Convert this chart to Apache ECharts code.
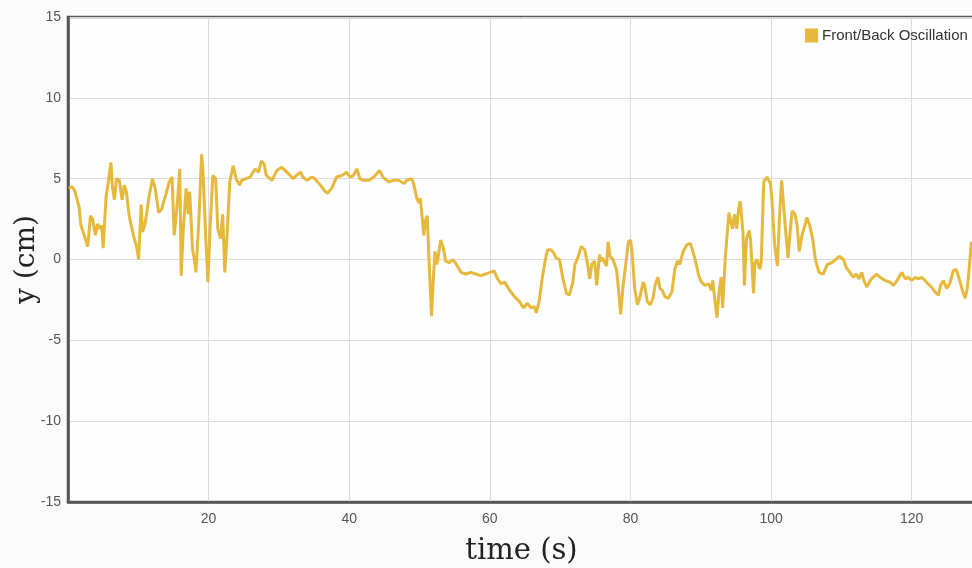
<!DOCTYPE html>
<html>
<head>
<meta charset="utf-8">
<script src="https://cdn.jsdelivr.net/npm/echarts@6/dist/echarts.min.js"></script>
<style>
html,body{margin:0;padding:0;background:#fbfbfb;}
#c{width:972px;height:568px;}
</style>
</head>
<body>
<div id="c"></div>
<script>
const seriesName = 'Front/Back Oscillation';
const timeS = [0.1,0.6,1.0,1.6,1.8,2.3,2.8,3.2,3.5,3.9,4.2,4.5,4.8,5.0,5.4,5.8,6.1,6.3,6.6,6.9,7.3,7.7,8.0,8.3,8.7,9.3,9.8,10.05,10.4,10.6,11.0,11.5,12.0,12.4,12.9,13.3,13.9,14.4,14.8,15.1,15.4,15.6,15.9,16.1,16.4,16.8,17.1,17.3,17.7,18.0,18.2,18.6,19.0,19.2,19.6,19.9,20.2,20.6,21.0,21.3,21.7,22.0,22.3,22.6,23.0,23.5,23.9,24.4,24.7,25.9,26.6,27.1,27.5,27.9,28.2,29.0,29.7,30.4,30.9,31.6,32.0,32.5,33.1,33.4,34.0,34.7,35.1,35.9,36.6,36.9,37.5,38.2,39.0,39.6,39.8,40.1,40.6,41.1,41.5,42.0,42.8,43.5,44.3,44.8,45.6,46.3,47.0,47.8,48.2,48.9,49.2,49.6,49.9,50.1,50.4,50.6,50.9,51.1,51.3,51.7,51.95,52.2,52.4,52.6,53.0,53.4,53.7,54.2,54.7,55.1,55.9,56.6,57.3,58.0,58.7,59.4,60.0,60.6,61.1,61.6,62.1,62.8,63.5,64.2,64.8,65.3,65.9,66.3,66.6,67.0,67.5,67.9,68.2,68.7,69.1,69.4,69.9,70.4,70.9,71.3,71.8,72.1,72.5,73.0,73.5,73.9,74.2,74.5,74.9,75.2,75.6,75.8,76.0,76.6,76.8,77.1,77.5,78.0,78.2,78.6,78.95,79.3,79.7,80.0,80.2,80.6,81.0,81.3,81.8,82.0,82.4,82.8,83.2,83.5,83.9,84.2,84.5,84.9,85.4,85.9,86.3,86.7,87.0,87.5,88.0,88.5,88.8,89.2,89.7,90.1,90.6,91.1,91.5,91.7,92.0,92.3,92.6,92.9,93.1,93.5,94.0,94.2,94.5,94.8,95.1,95.4,95.6,96.0,96.2,96.5,96.9,97.1,97.5,97.7,98.0,98.4,98.6,98.95,99.4,99.9,100.1,100.5,100.9,101.2,101.5,101.8,102.1,102.4,102.7,103.0,103.4,103.7,104.0,104.4,104.8,105.1,105.5,105.9,106.3,106.8,107.4,108.0,108.6,109.2,109.7,110.3,110.7,111.2,111.7,112.1,112.5,112.9,113.2,113.6,114.1,114.5,115.0,115.5,116.2,116.9,117.4,117.9,118.6,119.1,119.5,120.0,120.5,120.9,121.4,121.9,122.3,122.8,123.3,123.8,124.1,124.5,125.0,125.4,125.9,126.3,126.7,127.2,127.6,127.9,128.2,128.5];
const yCm = [4.4,4.5,4.2,3.2,2.2,1.5,0.8,2.7,2.5,1.5,2.2,1.9,2.1,0.7,3.8,5.0,6.0,4.6,3.7,5.0,4.9,3.7,4.6,4.2,2.7,1.5,0.7,0.0,3.4,1.7,2.3,3.8,5.0,4.4,2.9,3.1,4.0,4.8,5.1,1.5,2.8,3.8,5.6,-1.0,1.9,4.4,2.8,4.2,0.7,-0.1,-0.8,2.3,6.5,5.4,1.3,-1.4,1.9,5.2,5.0,1.9,1.3,2.8,-0.8,1.3,4.8,5.8,5.0,4.6,4.9,5.1,5.6,5.4,6.1,5.9,5.2,4.9,5.5,5.7,5.5,5.2,5.0,5.2,5.4,5.1,4.9,5.1,5.0,4.6,4.2,4.1,4.4,5.1,5.2,5.4,5.5,5.1,5.2,5.6,5.0,4.9,4.9,5.1,5.5,5.1,4.8,4.9,4.9,4.7,4.9,5.0,4.6,3.8,3.5,3.8,2.5,1.5,2.5,2.7,0.4,-3.5,-1.2,0.5,-0.3,0.0,1.2,0.7,-0.1,-0.2,0.0,-0.2,-0.8,-0.9,-0.8,-0.9,-1.0,-0.9,-0.8,-0.7,-1.2,-1.5,-1.4,-1.9,-2.3,-2.6,-3.0,-2.7,-3.0,-2.9,-3.3,-2.6,-1.0,0.0,0.6,0.6,0.4,0.1,0.0,-1.2,-2.1,-2.2,-1.4,-0.3,0.1,0.8,0.6,-0.3,-1.2,-0.3,-0.1,-1.6,0.3,-0.1,0.1,-0.4,1.1,0.2,0.0,-0.6,-1.4,-3.4,-1.6,-0.4,1.1,1.2,0.6,-1.8,-2.8,-2.4,-1.4,-1.6,-2.6,-2.8,-2.4,-1.6,-1.1,-1.8,-1.9,-2.3,-2.4,-2.0,-0.6,-0.1,-0.3,0.5,0.9,1.0,0.6,0.0,-1.0,-1.4,-1.6,-1.5,-1.9,-1.3,-2.5,-3.6,-2.0,-1.1,-3.0,0.2,2.9,3.0,1.9,2.8,1.9,3.2,3.6,1.7,-1.6,1.3,1.8,1.1,-2.1,-0.2,0.0,-0.6,-0.1,4.8,5.1,4.7,3.8,0.9,-0.4,2.7,4.9,3.2,1.6,0.1,1.7,3.0,2.8,2.1,0.5,1.5,2.1,2.6,2.1,1.3,0.0,-0.8,-0.9,-0.3,-0.2,0.0,0.2,0.0,-0.5,-0.8,-1.1,-0.9,-1.2,-0.8,-1.3,-1.7,-1.3,-1.1,-0.9,-1.1,-1.3,-1.4,-1.6,-1.3,-0.8,-1.2,-1.1,-1.3,-1.1,-1.2,-1.1,-1.3,-1.5,-1.7,-2.0,-2.2,-1.6,-1.3,-1.8,-1.5,-0.7,-0.6,-1.1,-1.9,-2.4,-1.8,-0.4,1.1];
const xTitle = 'time (s)';
const yTitle = 'y (cm)';

const chart = echarts.init(document.getElementById('c'), null, {renderer: 'canvas'});
const pts = timeS.map((t, i) => [t, yCm[i]]);
chart.setOption({
  animation: false,
  backgroundColor: '#fbfbfb',
  color: ['#e6b83c'],
  grid: {
    left: 68, right: -3, top: 17, bottom: 66,
    outerBoundsMode: 'none', containLabel: false,
    show: true, backgroundColor: '#fefefe', borderColor: '#555', borderWidth: 2.5
  },
  legend: {
    data: [seriesName],
    left: 805, top: 28, padding: 0,
    icon: 'rect', itemWidth: 13, itemHeight: 14, itemGap: 4,
    textStyle: {fontFamily: 'Liberation Sans, Arial, sans-serif', fontSize: 15, color: '#333', padding: [0,0,0,-1]}
  },
  xAxis: {
    type: 'value', min: 0, max: 129, interval: 20,
    name: xTitle, nameLocation: 'middle', nameGap: 35, nameMoveOverlap: false,
    nameTextStyle: {fontFamily: 'DejaVu Serif, serif', fontSize: 29, color: '#222'},
    axisLine: {show: true, onZero: false, lineStyle: {color: '#555', width: 2.5}},
    axisTick: {show: false},
    axisLabel: {showMinLabel: false, showMaxLabel: false, margin: 10, fontFamily: 'Liberation Sans, Arial, sans-serif', fontSize: 14, color: '#555'},
    splitLine: {show: true, lineStyle: {color: '#dcdcdc', width: 1}}
  },
  yAxis: {
    type: 'value', min: -15, max: 15, interval: 5,
    name: yTitle, nameLocation: 'middle', nameGap: 27, nameRotate: 90, nameMoveOverlap: false,
    nameTextStyle: {fontFamily: 'DejaVu Serif, serif', fontSize: 28, color: '#222'},
    axisLine: {show: true, onZero: false, lineStyle: {color: '#555', width: 2.5}},
    axisTick: {show: false},
    axisLabel: {margin: 7, fontFamily: 'Liberation Sans, Arial, sans-serif', fontSize: 14, color: '#555'},
    splitLine: {show: true, lineStyle: {color: '#dcdcdc', width: 1}}
  },
  series: [{
    name: seriesName, type: 'line', data: pts,
    showSymbol: false, symbol: 'none',
    lineStyle: {width: 3, color: '#e6b83c'},
    clip: true
  }]
});
</script>
</body>
</html>
